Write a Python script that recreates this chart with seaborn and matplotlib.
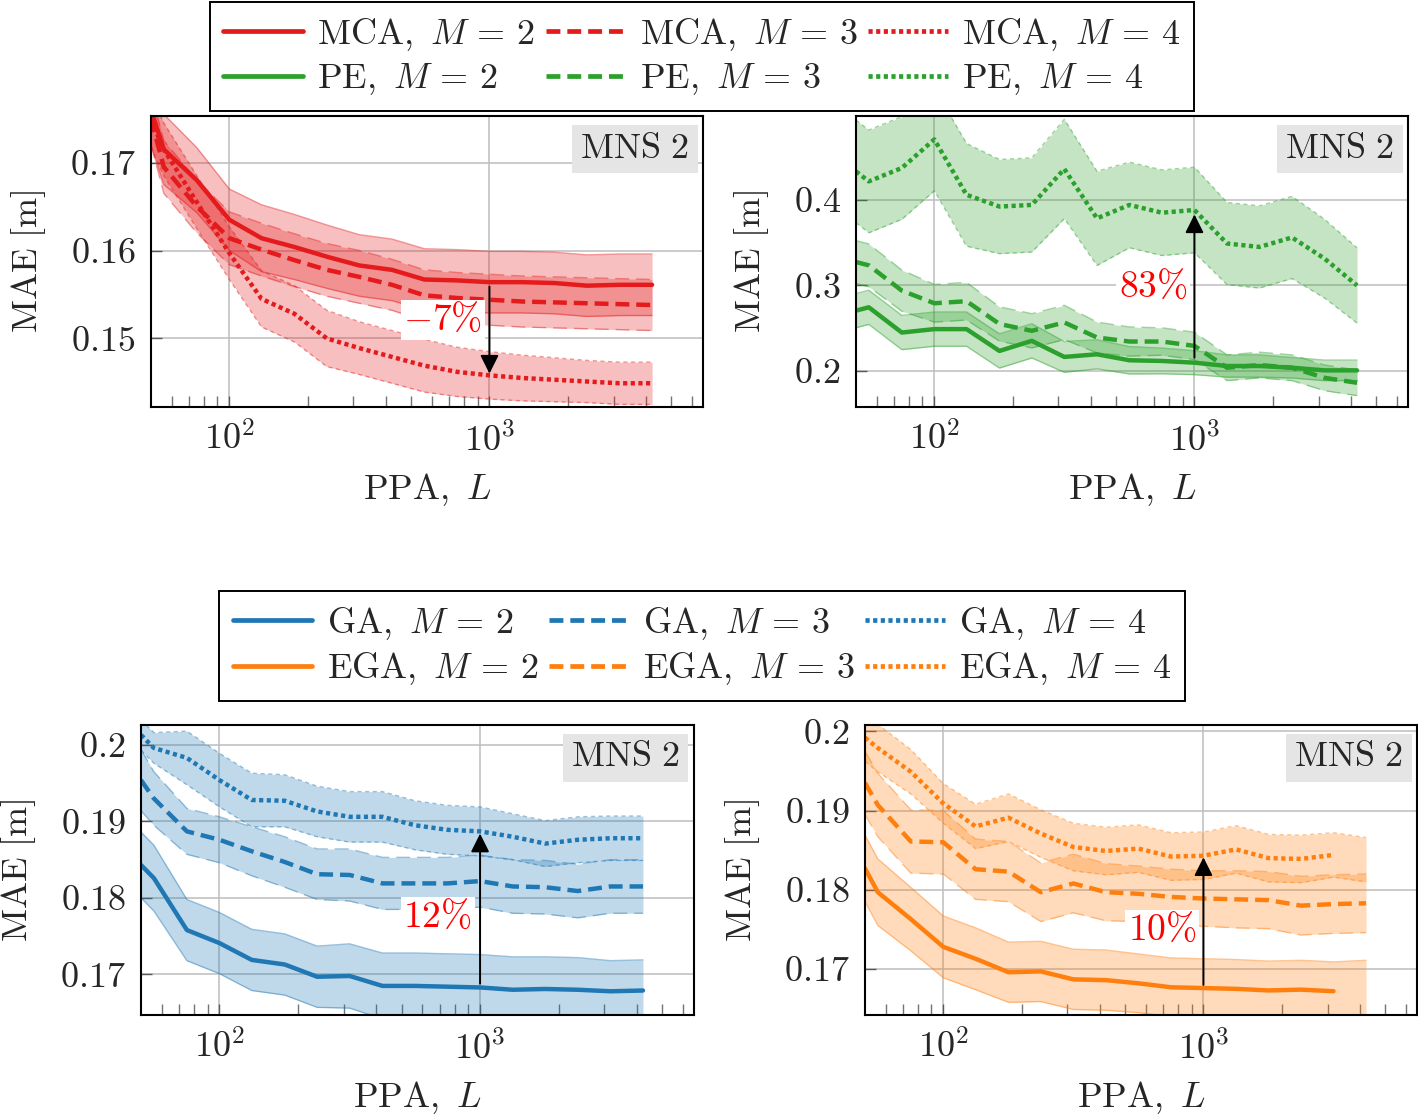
import matplotlib
matplotlib.use("Agg")
import pandas as pd
import matplotlib.pyplot as plt
import seaborn as sns
from matplotlib.lines import Line2D

# %%
# PPA values (x axis, log scale)
ppa = [50, 56, 75, 100, 133, 178, 237, 316, 422, 562, 750, 1000, 1334, 1778, 2371, 3162, 4217]

# MCA (top left)
mca_m2 = [0.1760, 0.1715, 0.1680, 0.1635, 0.1614, 0.1604, 0.1593, 0.1583, 0.1578, 0.1567, 0.1566, 0.1564, 0.1564, 0.1563, 0.1560, 0.1561, 0.1561]
mca_m2_sd = [0.0040, 0.0040, 0.0037, 0.0035, 0.0038, 0.0037, 0.0036, 0.0035, 0.0035, 0.0035, 0.0035, 0.0035, 0.0035, 0.0035, 0.0035, 0.0035, 0.0035]
mca_m3 = [0.1750, 0.1695, 0.1650, 0.1614, 0.1601, 0.1589, 0.1578, 0.1570, 0.1561, 0.1549, 0.1546, 0.1544, 0.1542, 0.1541, 0.1540, 0.1539, 0.1538]
mca_m3_sd = [0.0030, 0.0030, 0.0030, 0.0030, 0.0030, 0.0030, 0.0030, 0.0030, 0.0029, 0.0029, 0.0029, 0.0029, 0.0029, 0.0029, 0.0029, 0.0029, 0.0029]
mca_m4 = [0.1748, 0.1715, 0.1655, 0.1597, 0.1545, 0.1528, 0.1500, 0.1489, 0.1479, 0.1469, 0.1462, 0.1458, 0.1455, 0.1453, 0.1451, 0.1449, 0.1449]
mca_m4_sd = [0.0030, 0.0030, 0.0030, 0.0030, 0.0032, 0.0032, 0.0032, 0.0030, 0.0030, 0.0030, 0.0028, 0.0027, 0.0026, 0.0025, 0.0024, 0.0024, 0.0024]

# PE (top right)
pe_m2 = [0.2706, 0.2745, 0.2450, 0.2490, 0.2490, 0.2235, 0.2353, 0.2165, 0.2196, 0.2126, 0.2118, 0.2098, 0.2059, 0.2059, 0.2039, 0.2008, 0.2008]
pe_m2_sd = [0.020, 0.020, 0.020, 0.020, 0.020, 0.020, 0.020, 0.018, 0.017, 0.016, 0.015, 0.014, 0.013, 0.013, 0.012, 0.012, 0.012]
pe_m3 = [0.3274, 0.3235, 0.2940, 0.2792, 0.2816, 0.2550, 0.2470, 0.2568, 0.2392, 0.2345, 0.2345, 0.2294, 0.2039, 0.2070, 0.2039, 0.1921, 0.1863]
pe_m3_sd = [0.025, 0.025, 0.024, 0.022, 0.022, 0.020, 0.020, 0.020, 0.018, 0.017, 0.016, 0.016, 0.015, 0.015, 0.015, 0.015, 0.015]
pe_m4 = [0.4333, 0.4216, 0.4373, 0.4706, 0.4059, 0.3922, 0.3941, 0.4361, 0.3784, 0.3941, 0.3850, 0.3882, 0.3490, 0.3450, 0.3561, 0.3314, 0.3000]
pe_m4_sd = [0.060, 0.060, 0.060, 0.060, 0.060, 0.055, 0.055, 0.058, 0.055, 0.050, 0.050, 0.050, 0.048, 0.048, 0.048, 0.046, 0.044]

# GA (bottom left)
ga_m2 = [0.1843, 0.1826, 0.1758, 0.1741, 0.1719, 0.1713, 0.1697, 0.1698, 0.1685, 0.1685, 0.1684, 0.1683, 0.1680, 0.1681, 0.1680, 0.1678, 0.1679]
ga_m2_sd = [0.0043, 0.0043, 0.0040, 0.0040, 0.0040, 0.0040, 0.0040, 0.0042, 0.0043, 0.0043, 0.0043, 0.0043, 0.0043, 0.0042, 0.0042, 0.0040, 0.0040]
ga_m3 = [0.1954, 0.1930, 0.1887, 0.1876, 0.1861, 0.1847, 0.1831, 0.1830, 0.1819, 0.1819, 0.1819, 0.1822, 0.1815, 0.1814, 0.1809, 0.1815, 0.1815]
ga_m3_sd = [0.0040, 0.0035, 0.0030, 0.0030, 0.0032, 0.0033, 0.0033, 0.0034, 0.0034, 0.0034, 0.0034, 0.0034, 0.0035, 0.0035, 0.0035, 0.0035, 0.0035]
ga_m4 = [0.2013, 0.1996, 0.1983, 0.1954, 0.1928, 0.1927, 0.1913, 0.1906, 0.1906, 0.1895, 0.1889, 0.1887, 0.1880, 0.1871, 0.1876, 0.1878, 0.1878]
ga_m4_sd = [0.0020, 0.0020, 0.0035, 0.0035, 0.0035, 0.0034, 0.0033, 0.0033, 0.0033, 0.0032, 0.0032, 0.0032, 0.0030, 0.0030, 0.0030, 0.0029, 0.0029]

# EGA (bottom right)
ega_m2 = [0.1827, 0.1797, 0.1763, 0.1728, 0.1713, 0.1696, 0.1697, 0.1687, 0.1686, 0.1682, 0.1677, 0.1676, 0.1675, 0.1673, 0.1674, 0.1672, 0.1672]
ega_m2_sd = [0.0042, 0.0042, 0.0040, 0.0039, 0.0039, 0.0038, 0.0038, 0.0038, 0.0038, 0.0037, 0.0037, 0.0037, 0.0037, 0.0037, 0.0037, 0.0037, 0.0039]
ega_m3 = [0.1935, 0.1907, 0.1861, 0.1860, 0.1826, 0.1823, 0.1797, 0.1808, 0.1797, 0.1795, 0.1791, 0.1789, 0.1788, 0.1787, 0.1780, 0.1782, 0.1783]
ega_m3_sd = [0.0040, 0.0040, 0.0040, 0.0040, 0.0038, 0.0038, 0.0037, 0.0037, 0.0036, 0.0035, 0.0035, 0.0035, 0.0036, 0.0036, 0.0037, 0.0037, 0.0037]
ega_m4 = [0.1992, 0.1979, 0.1949, 0.1909, 0.1880, 0.1891, 0.1871, 0.1854, 0.1849, 0.1852, 0.1842, 0.1843, 0.1851, 0.1840, 0.1839, 0.1844, 0.1838]
ega_m4_sd = [0.0030, 0.0030, 0.0028, 0.0025, 0.0028, 0.0030, 0.0030, 0.0030, 0.0030, 0.0030, 0.0030, 0.0030, 0.0030, 0.0030, 0.0030, 0.0028, 0.0028]

# last PPA drawn for the mean line (band goes on to the end)
line_end = {("EGA", 2): 3162, ("EGA", 4): 3162}

ytick_tl = [0.15, 0.16, 0.17]
ytick_tr = [0.2, 0.3, 0.4]
ytick_b = [0.17, 0.18, 0.19, 0.2]

# %%
sns.set_style("white")
plt.rcParams['font.family'] = ['cmr10', 'DejaVu Serif']
plt.rcParams['mathtext.fontset'] = 'cm'
plt.rcParams['axes.formatter.use_mathtext'] = True
plt.rcParams['lines.scale_dashes'] = False
plt.rcParams['axes.unicode_minus'] = False

FS = 26
styles = {2: '-', 3: (0, (10, 5)), 4: (0, (3, 2.5))}
RED, GREEN, BLUE, ORANGE = '#e41a1c', '#2ca02c', '#1f77b4', '#ff7f0e'

rows = []
for method, series in [('MCA', [mca_m2, mca_m3, mca_m4]), ('PE', [pe_m2, pe_m3, pe_m4]),
                       ('GA', [ga_m2, ga_m3, ga_m4]), ('EGA', [ega_m2, ega_m3, ega_m4])]:
    sds = {'MCA': [mca_m2_sd, mca_m3_sd, mca_m4_sd], 'PE': [pe_m2_sd, pe_m3_sd, pe_m4_sd],
           'GA': [ga_m2_sd, ga_m3_sd, ga_m4_sd], 'EGA': [ega_m2_sd, ega_m3_sd, ega_m4_sd]}[method]
    for m, vals, sd in zip([2, 3, 4], series, sds):
        for L, v, s in zip(ppa, vals, sd):
            rows.append(dict(method=method, M=m, PPA=L, MAE=v, lo=v - s, hi=v + s))
df = pd.DataFrame(rows)

W, H = 1418, 1118
fig = plt.figure(figsize=(W / 100, H / 100), dpi=100)

panels = [
    dict(methods=[('MCA', RED)], box=(151, 116, 552, 291), ylim=(0.1422, 0.1753), yticks=ytick_tl,
         ylabels=['0.15', '0.16', '0.17'], arrow=(0.1559, 0.1460), txt=(661, 0.1521, r'$-7\%$')),
    dict(methods=[('PE', GREEN)], box=(856, 116, 552, 291), ylim=(0.158, 0.498), yticks=ytick_tr,
         ylabels=['0.2', '0.3', '0.4'], arrow=(0.2157, 0.3830), txt=(692, 0.298, r'$83\%$')),
    dict(methods=[('GA', BLUE)], box=(141, 725, 553, 290), ylim=(0.1647, 0.2026), yticks=ytick_b,
         ylabels=['0.17', '0.18', '0.19', '0.2'], arrow=(0.1688, 0.1884), txt=(687, 0.1775, r'$12\%$')),
    dict(methods=[('EGA', ORANGE)], box=(865, 725, 552, 290), ylim=(0.1642, 0.2008), yticks=ytick_b,
         ylabels=['0.17', '0.18', '0.19', '0.2'], arrow=(0.1680, 0.1841), txt=(695, 0.1750, r'$10\%$')),
]

for p in panels:
    x0, y0, w, h = p['box']
    ax = fig.add_axes([x0 / W, 1 - (y0 + h) / H, w / W, h / H])
    for method, col in p['methods']:
        for m in [2, 3, 4]:
            sub = df[(df.method == method) & (df.M == m)]
            ax.fill_between(sub.PPA, sub.lo, sub.hi, color=col, alpha=0.28, lw=0)
            ax.plot(sub.PPA, sub.lo, color=col, alpha=0.45, lw=1.0, linestyle=styles[m])
            ax.plot(sub.PPA, sub.hi, color=col, alpha=0.45, lw=1.0, linestyle=styles[m])
            end = line_end.get((method, m), max(ppa))
            sns.lineplot(data=sub[sub.PPA <= end], x='PPA', y='MAE', color=col, lw=3.2,
                         linestyle=styles[m], errorbar=None, ax=ax)
    ax.set_xscale('log')
    ax.set_xlim(50, 6620)
    ax.set_ylim(*p['ylim'])
    ax.set_xticks([100, 1000])
    ax.set_xticklabels([r'$10^2$', r'$10^3$'])
    ax.set_xticks([v * d for d in [10, 100, 1000] for v in range(2, 10) if 50 < v * d < 6620], minor=True)
    ax.set_xticklabels([], minor=True)
    ax.set_yticks(p['yticks'])
    ax.set_yticklabels(['$' + s + '$' for s in p['ylabels']])
    ax.tick_params(axis='both', which='major', direction='in', length=8, width=1, color='0.35',
                   labelsize=FS, bottom=True, left=True, top=False, right=False)
    ax.tick_params(axis='x', which='major', pad=11)
    ax.tick_params(axis='y', which='major', pad=11)
    ax.tick_params(axis='x', which='minor', direction='in', length=8, width=1, color='0.45',
                   bottom=True, top=False)
    ax.grid(True, which='major', color='#bdbdbd', lw=1.1)
    ax.set_axisbelow(True)
    for s in ax.spines.values():
        s.set_color('black')
        s.set_linewidth(1.5)
    ax.set_xlabel(r'$\mathrm{PPA,}\ L$', fontsize=FS, labelpad=10)
    ax.set_ylabel(r'$\mathrm{MAE\ [m]}$', fontsize=FS, labelpad=16)
    ax.text(0.975, 0.942, r'$\mathrm{MNS\ 2}$', transform=ax.transAxes, ha='right', va='top',
            fontsize=FS, bbox=dict(facecolor='#e5e5e5', edgecolor='none', pad=6))
    a0, a1 = p['arrow']
    ax.annotate('', xy=(1000, a1), xytext=(1000, a0),
                arrowprops=dict(arrowstyle='-|>', mutation_scale=28, lw=1.4, color='black',
                                shrinkA=0, shrinkB=0))
    tx, ty, tt = p['txt']
    ax.text(tx, ty, tt, color='#ff0000', fontsize=FS + 1, ha='center', va='center',
            bbox=dict(facecolor='white', edgecolor='none', pad=2))


def legend_for(names, cols, anchor_y):
    handles, labels = [], []
    for name, col in zip(names, cols):
        for m in [2, 3, 4]:
            handles.append(Line2D([], [], color=col, lw=3.4, linestyle=styles[m]))
            labels.append(r'$\mathrm{%s,}\ M\,=\,%d$' % (name, m))
    # reorder so that each method fills one row
    order = [0, 3, 1, 4, 2, 5]
    leg = fig.legend([handles[i] for i in order], [labels[i] for i in order], ncol=3,
                     loc='upper center', bbox_to_anchor=(702 / W, 1 - anchor_y / H),
                     fontsize=FS, frameon=True, fancybox=False, edgecolor='black', framealpha=1,
                     handlelength=2.2, handletextpad=0.4, columnspacing=0.3, borderpad=0.38,
                     labelspacing=0.24, borderaxespad=0)
    leg.get_frame().set_linewidth(1.4)


legend_for(['MCA', 'PE'], [RED, GREEN], 2)
legend_for(['GA', 'EGA'], [BLUE, ORANGE], 591)

fig.savefig('out.png', dpi=100)
